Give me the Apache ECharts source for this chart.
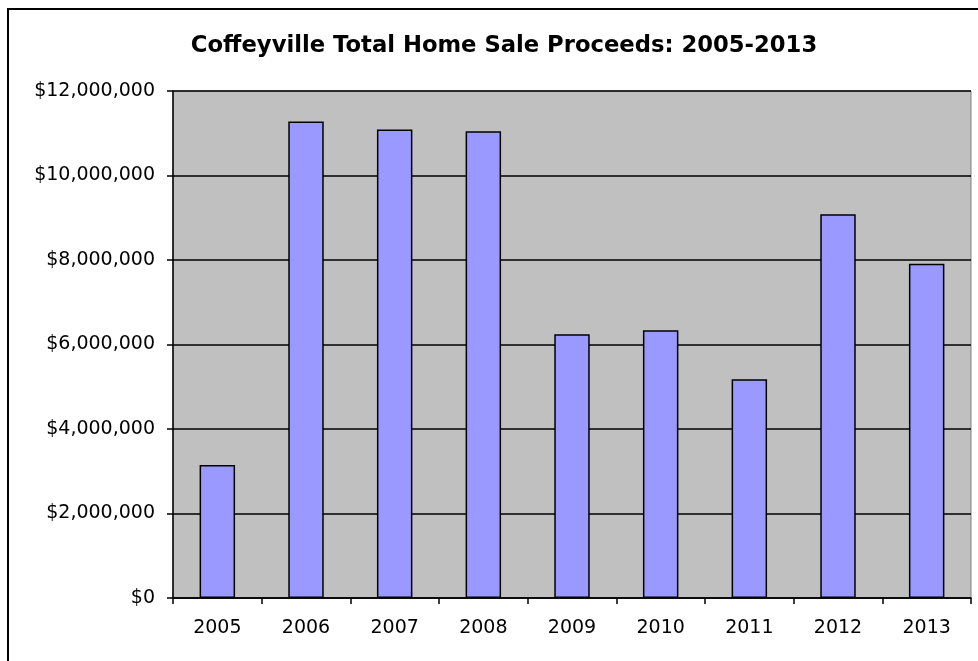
<!DOCTYPE html>
<html><head><meta charset="utf-8">
<script src="https://cdn.jsdelivr.net/npm/echarts@6/dist/echarts.min.js"></script>
<style>html,body{margin:0;padding:0;background:#fff}#c{width:978px;height:661px}</style>
</head><body><div id="c"></div>
<script>
const titleText = "Coffeyville Total Home Sale Proceeds: 2005-2013";
const years = ["2005","2006","2007","2008","2009","2010","2011","2012","2013"];
const proceeds = [3150000, 11280000, 11090000, 11050000, 6240000, 6340000, 5180000, 9080000, 7910000];
const yTicks = [0, 2000000, 4000000, 6000000, 8000000, 10000000, 12000000];

const chart = echarts.init(document.getElementById('c'), null, {renderer:'canvas'});
const font = "DejaVu Sans, sans-serif";
chart.setOption({
  animation:false,
  backgroundColor:'#fff',
  title:{text:titleText, left:499, textAlign:'center', top:30, textStyle:{fontFamily:font, fontSize:22.7, fontWeight:'bold', color:'#000'}},
  graphic:[{type:'rect', shape:{x:8, y:9, width:1000, height:700}, style:{fill:'none', stroke:'#000', lineWidth:2}, z:100}],
  grid:{left:173, right:7, top:91, bottom:63, show:true, backgroundColor:'#C0C0C0', borderColor:'#808080', borderWidth:1},
  xAxis:{type:'category', data:years,
    axisLine:{lineStyle:{color:'#000', width:1.5}},
    axisTick:{show:true, length:6, lineStyle:{color:'#000', width:1.5}},
    axisLabel:{fontFamily:font, fontSize:19, color:'#000', margin:21}},
  yAxis:{type:'value', min:yTicks[0], max:yTicks[yTicks.length-1], interval:2000000,
    axisLine:{show:true, lineStyle:{color:'#000', width:1.5}},
    axisTick:{show:true, length:6, lineStyle:{color:'#000', width:1.5}},
    splitLine:{lineStyle:{color:'#000', width:1.5}},
    axisLabel:{fontFamily:font, fontSize:19, color:'#000', margin:18,
      formatter:v=>'$'+v.toLocaleString('en-US')}},
  series:[{type:'bar', data:proceeds, barCategoryGap:'60%',
    itemStyle:{color:'#9999FF', borderColor:'#000', borderWidth:1.5}}]
});
</script></body></html>
